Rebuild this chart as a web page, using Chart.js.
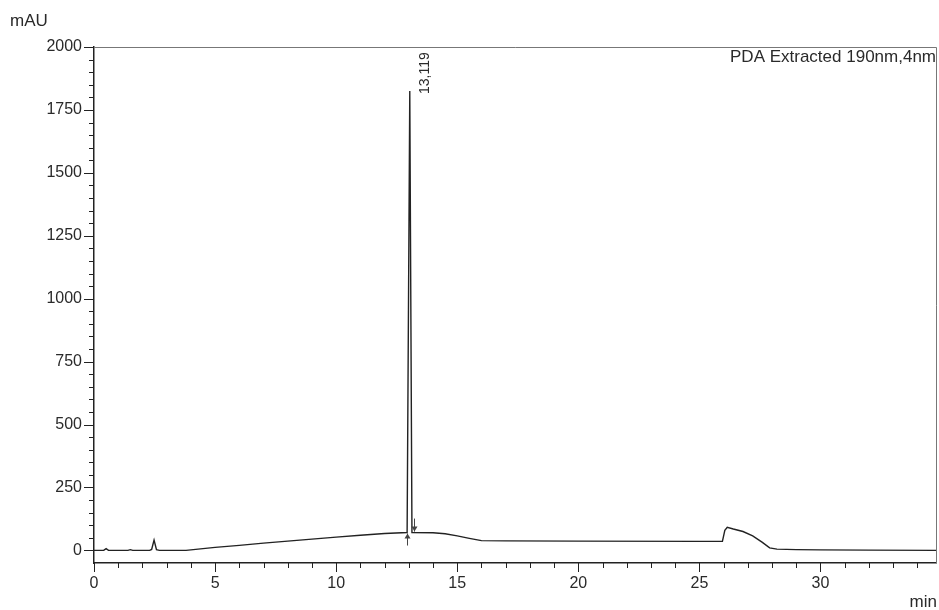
<!DOCTYPE html>
<html>
<head>
<meta charset="utf-8">
<script src="https://cdn.jsdelivr.net/npm/chart.js@4/dist/chart.umd.min.js"></script>
<style>
  html, body { margin: 0; padding: 0; background: #fff; }
  #wrap { width: 939px; height: 610px; }
</style>
</head>
<body>
<div id="wrap"><canvas id="chrom" width="939" height="610"></canvas></div>
<script>
// retention time (min) and detector signal (mAU)
const times = [0, 0.4, 0.5, 0.6, 1.4, 1.5, 1.6, 2.3, 2.38, 2.48, 2.58, 2.7, 3.8, 5, 6, 7, 8, 9, 10, 11, 12,
  12.93, 13.04, 13.13, 14, 14.5, 15, 15.5, 16, 17, 20, 25, 25.95, 26.05, 26.15, 26.4, 26.8, 27.2, 27.6,
  27.9, 28.2, 29, 30, 32, 34.77];
const signal = [0, 0, 7, 0, 0, 3, 0, 0, 4, 41, 3, 0, 0, 12, 20, 29, 37, 45, 53, 60, 67,
  71, 1825, 71, 70, 66, 58, 48, 39, 38, 37, 36, 36, 80, 92, 85, 75, 58, 32,
  10, 5, 3, 2, 1, 0];

const xTicks = [0, 5, 10, 15, 20, 25, 30];
const yTicks = [0, 250, 500, 750, 1000, 1250, 1500, 1750, 2000];

const peakTime = 13.04;      // apex of the labelled peak
const peakLabel = "13,119";
const peakStart = 12.93;     // integration markers
const peakEnd = 13.22;

const font = "'Liberation Sans', Arial, sans-serif";
const textColor = "#2a2a2a";

function signalAt(t) {
  for (let i = 1; i < times.length; i++) {
    if (t <= times[i]) {
      const f = (t - times[i - 1]) / (times[i] - times[i - 1]);
      return signal[i - 1] + f * (signal[i] - signal[i - 1]);
    }
  }
  return signal[signal.length - 1];
}

const decor = {
  id: "decor",
  afterDraw(chart) {
    const { ctx, chartArea: a, scales: { x, y } } = chart;
    ctx.save();

    // top + right frame
    ctx.strokeStyle = "#777";
    ctx.lineWidth = 1;
    ctx.beginPath();
    ctx.moveTo(a.left, a.top + 0.5);
    ctx.lineTo(a.right + 0.5, a.top + 0.5);
    ctx.lineTo(a.right + 0.5, a.bottom);
    ctx.stroke();

    // tick marks
    ctx.strokeStyle = "#222";
    ctx.lineWidth = 1;
    ctx.beginPath();
    for (let v = 0; v <= 2000; v += 50) {
      const py = Math.round(y.getPixelForValue(v)) + 0.5;
      const len = v % 250 === 0 ? 10 : 5;
      ctx.moveTo(a.left - len, py);
      ctx.lineTo(a.left, py);
    }
    for (let v = 0; v <= x.max; v += 1) {
      const px = Math.round(x.getPixelForValue(v)) + 0.5;
      const len = v % 5 === 0 ? 9 : 5;
      ctx.moveTo(px, a.bottom);
      ctx.lineTo(px, a.bottom + len);
    }
    ctx.stroke();

    // axis titles
    ctx.fillStyle = textColor;
    ctx.font = "17px " + font;
    ctx.textAlign = "left";
    ctx.textBaseline = "alphabetic";
    ctx.fillText("mAU", 10, 26);
    ctx.textAlign = "right";
    ctx.fillText("min", 937, 607);
    ctx.fillText("PDA Extracted 190nm,4nm", a.right, 62);

    // peak label, rotated
    const px = x.getPixelForValue(peakTime);
    const py = y.getPixelForValue(signalAt(peakTime));
    ctx.save();
    ctx.translate(px + 15, py + 3);
    ctx.rotate(-Math.PI / 2);
    ctx.font = "14px " + font;
    ctx.textAlign = "left";
    ctx.textBaseline = "middle";
    ctx.fillText(peakLabel, 0, 0);
    ctx.restore();

    // integration arrows
    ctx.strokeStyle = "#444";
    ctx.fillStyle = "#444";
    ctx.lineWidth = 1;
    const arrow = (t, up) => {
      const ax = Math.round(x.getPixelForValue(t)) + 0.5;
      const ay = y.getPixelForValue(signalAt(t));
      const tail = up ? ay + 13 : ay - 14;
      const tip = up ? ay + 1 : ay - 1;
      ctx.beginPath();
      ctx.moveTo(ax, tail);
      ctx.lineTo(ax, tip);
      ctx.stroke();
      const d = up ? 5 : -5;
      ctx.beginPath();
      ctx.moveTo(ax, tip);
      ctx.lineTo(ax - 3, tip + d);
      ctx.lineTo(ax + 3, tip + d);
      ctx.closePath();
      ctx.fill();
    };
    arrow(peakStart, true);
    arrow(peakEnd, false);

    ctx.restore();
  }
};

new Chart(document.getElementById("chrom"), {
  type: "line",
  data: {
    datasets: [{
      data: times.map((t, i) => ({ x: t, y: signal[i] })),
      borderColor: "#222",
      borderWidth: 1.4,
      pointRadius: 0,
      tension: 0,
      fill: false
    }]
  },
  options: {
    responsive: false,
    animation: false,
    layout: { padding: { top: 47, right: 3, left: 0, bottom: 0 } },
    plugins: { legend: { display: false }, tooltip: { enabled: false } },
    scales: {
      x: {
        type: "linear",
        min: 0,
        max: 34.77,
        afterFit: s => { s.height = 47; },
        afterBuildTicks: s => { s.ticks = xTicks.map(v => ({ value: v })); },
        grid: { color: "transparent", drawOnChartArea: false, tickLength: 9 },
        border: { color: "#222", width: 1.5 },
        ticks: { color: textColor, font: { family: font, size: 16 }, padding: 2, maxRotation: 0,
          callback: v => String(v) }
      },
      y: {
        min: -50,
        max: 2000,
        afterFit: s => { s.width = 94; },
        afterBuildTicks: s => { s.ticks = yTicks.map(v => ({ value: v })); },
        grid: { color: "transparent", drawOnChartArea: false, tickLength: 10 },
        border: { color: "#222", width: 1.5 },
        ticks: { color: textColor, font: { family: font, size: 16 }, padding: 2,
          callback: v => String(v) }
      }
    }
  },
  plugins: [decor]
});
</script>
</body>
</html>
